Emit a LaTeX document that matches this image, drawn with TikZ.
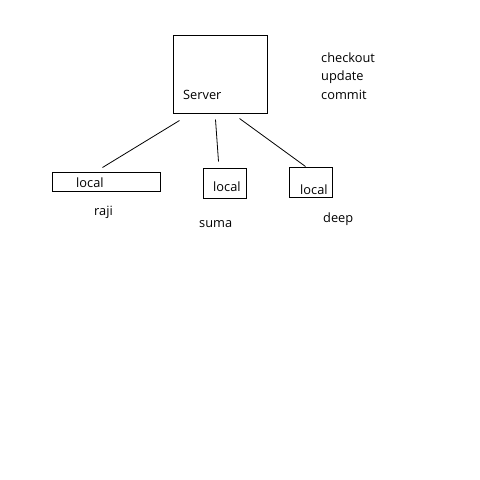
\documentclass[tikz,border=0pt]{standalone}
\usepackage{fontspec}
\setmainfont{Open Sans}
\begin{document}
\begin{tikzpicture}[x=1pt, y=-1pt,
      box/.style = {draw, line width=1pt, inner sep=0pt},
      txt/.style = {anchor=base west, inner sep=0pt,
        font=\fontsize{12.8}{15}\selectfont},
      link/.style = {line width=0.8pt}]
    \useasboundingbox (0,0) rectangle (480,480);
    % boxes
    \node[box, minimum width=94pt, minimum height=78pt] (server) at (220,74) {};
    \node[box, minimum width=108pt, minimum height=19pt] (raji) at (106,181.5) {};
    \node[box, minimum width=43pt, minimum height=30pt] (suma) at (224.5,183) {};
    \node[box, minimum width=43pt, minimum height=30pt] (deep) at (310.5,182) {};
    % texts
    \node[txt] (server text) at (183,99) {Server};
    \node[txt, align=left] (ops) at (321,99) {checkout\\[3.3pt]update\\[3.3pt]commit};
    \node[txt] (raji local) at (76,187) {local};
    \node[txt] (suma local) at (213,191) {local};
    \node[txt] (deep local) at (300,194) {local};
    \node[txt] (raji name) at (94,215) {raji};
    \node[txt] (suma name) at (199,227) {suma};
    \node[txt] (deep name) at (323,222) {deep};
    % links
    \coordinate (s1) at ([shift={(7,7)}]server.south west);
    \coordinate (s2) at ([shift={(43,6)}]server.south west);
    \coordinate (s3) at ([shift={(67,5)}]server.south west);
    \coordinate (r1) at ([shift={(51,-4)}]raji.north west);
    \coordinate (r2) at ([shift={(16,-6)}]suma.north west);
    \coordinate (r3) at ([shift={(17,0)}]deep.north west);
    \draw[link] (s1) -- (r1);
    \draw[link] (s2) -- (r2);
    \draw[link] (s3) -- (r3);
  \end{tikzpicture}
\end{document}
